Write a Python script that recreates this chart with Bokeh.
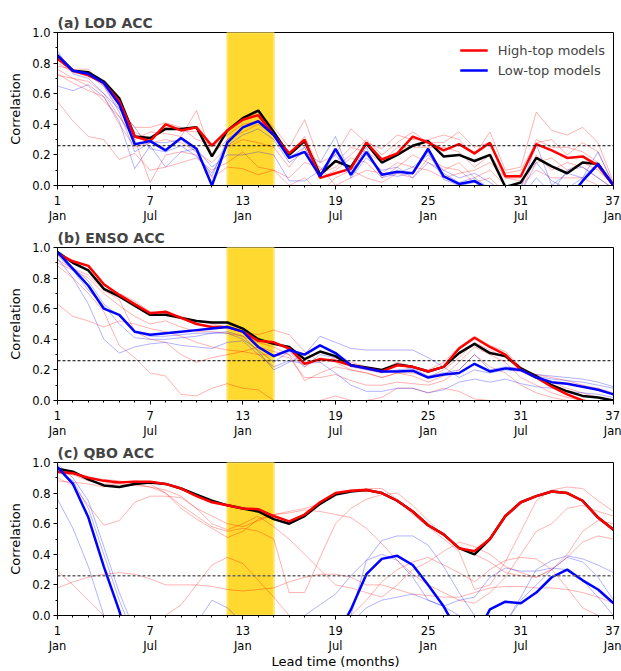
from bokeh.plotting import figure
from bokeh.layouts import column
from bokeh.models import (FixedTicker, BoxAnnotation, Span, Legend, LegendItem,
                          NumeralTickFormatter, Range1d)
from bokeh.embed import file_html
from bokeh.resources import INLINE

# ---------------- data ----------------
months = list(range(1, 38))
major_ticks = [1, 7, 13, 19, 25, 31, 37]
major_labels = ["1\nJan", "7\nJul", "13\nJan", "19\nJul", "25\nJan", "31\nJul", "37\nJan"]
panel_titles = ["(a) LOD ACC", "(b) ENSO ACC", "(c) QBO ACC"]
legend_labels = ["High-top models", "Low-top models"]
significance = 0.26
band_start, band_end = 12, 15

# (a) LOD
lod_all = [0.85, 0.75, 0.74, 0.68, 0.57, 0.32, 0.31, 0.37, 0.37, 0.38, 0.19, 0.36, 0.44, 0.49, 0.35, 0.20, 0.29,
           0.07, 0.16, 0.12, 0.275, 0.15, 0.20, 0.26, 0.29, 0.19, 0.20, 0.16, 0.20, -0.01, 0.02, 0.18, 0.125,
           0.08, 0.15, 0.14, 0.0]
lod_high = [0.83, 0.75, 0.72, 0.67, 0.55, 0.32, 0.29, 0.40, 0.36, 0.38, 0.26, 0.36, 0.43, 0.46, 0.33, 0.21, 0.30,
            0.05, 0.08, 0.11, 0.28, 0.17, 0.21, 0.32, 0.28, 0.23, 0.27, 0.21, 0.28, 0.06, 0.06, 0.27, 0.23,
            0.18, 0.19, 0.13, 0.0]
lod_low = [0.85, 0.75, 0.73, 0.67, 0.53, 0.27, 0.29, 0.23, 0.31, 0.24, 0.0, 0.28, 0.38, 0.42, 0.33, 0.18, 0.22,
           0.06, 0.24, 0.07, 0.22, 0.07, 0.09, 0.08, 0.24, 0.06, 0.01, 0.03, -0.03, -0.08, -0.10, -0.08, -0.10,
           -0.10, 0.03, 0.14, 0.0]
lod_high_members = [
    [0.78, 0.76, 0.76, 0.65, 0.50, 0.38, 0.38, 0.41, 0.38, 0.30, 0.27, 0.36, 0.43, 0.48, 0.38, 0.25, 0.43, 0.15, 0.20,
     0.37, 0.28, 0.24, 0.33, 0.30, 0.30, 0.33, 0.30, 0.20, 0.35, 0.10, 0.12, 0.48, 0.36, 0.33, 0.38, 0.28, 0.02],
    [0.76, 0.70, 0.68, 0.60, 0.45, 0.30, 0.35, 0.34, 0.32, 0.49, 0.20, 0.30, 0.35, 0.40, 0.33, 0.20, 0.32, 0.10, 0.15,
     0.25, 0.22, 0.15, 0.25, 0.25, 0.25, 0.25, 0.22, 0.12, 0.20, 0.05, 0.05, 0.30, 0.25, 0.25, 0.22, 0.15, 0.0],
    [0.73, 0.67, 0.62, 0.58, 0.40, 0.25, 0.28, 0.30, 0.28, 0.22, 0.15, 0.25, 0.30, 0.28, 0.25, 0.12, 0.25, 0.05, 0.10,
     0.18, 0.15, 0.05, 0.12, 0.20, 0.15, 0.10, 0.15, 0.05, 0.10, 0.0, -0.05, 0.20, 0.10, 0.15, 0.12, 0.05, -0.02],
    [0.55, 0.42, 0.32, 0.30, 0.17, 0.21, 0.10, 0.12, 0.15, 0.18, 0.10, 0.15, 0.22, 0.12, 0.10, 0.0, 0.05, -0.05, 0.05,
     0.10, 0.05, 0.02, 0.08, 0.05, 0.18, 0.12, 0.10, 0.02, 0.05, -0.05, 0.0, 0.10, 0.05, 0.05, 0.05, 0.0, -0.05],
    [0.72, 0.70, 0.65, 0.55, 0.45, 0.30, 0.02, 0.20, 0.22, 0.20, 0.05, 0.12, 0.11, 0.07, 0.10, 0.05, 0.15, 0.12, 0.0,
     0.05, 0.10, 0.08, 0.15, 0.12, 0.10, 0.05, 0.08, 0.10, 0.15, 0.05, 0.03, 0.15, 0.18, 0.10, 0.15, 0.10, 0.0],
    [0.80, 0.74, 0.72, 0.66, 0.52, 0.35, 0.30, 0.38, 0.36, 0.35, 0.25, 0.33, 0.40, 0.42, 0.35, 0.22, 0.30, 0.08, 0.12,
     0.20, 0.30, 0.20, 0.28, 0.35, 0.28, 0.28, 0.35, 0.25, 0.28, 0.08, 0.10, 0.28, 0.30, 0.20, 0.28, 0.22, 0.01],
]
lod_low_members = [
    [0.88, 0.73, 0.70, 0.60, 0.50, 0.38, 0.24, 0.22, 0.26, 0.19, 0.08, 0.26, 0.33, 0.37, 0.30, 0.15, 0.22, 0.15, 0.32,
     0.05, 0.18, 0.10, 0.12, 0.05, 0.15, 0.08, 0.02, 0.05, -0.02, -0.05, -0.02, 0.27, 0.0, 0.08, 0.05, 0.22, 0.0],
    [0.65, 0.62, 0.66, 0.58, 0.42, 0.11, 0.26, 0.12, 0.22, 0.24, 0.12, 0.20, 0.20, 0.22, 0.20, 0.03, 0.03, 0.10, 0.20,
     0.08, 0.25, 0.05, 0.08, 0.12, 0.20, 0.10, 0.05, 0.08, 0.02, -0.05, -0.08, 0.05, -0.05, 0.10, 0.12, 0.05, -0.02],
    [0.82, 0.75, 0.72, 0.65, 0.48, 0.22, 0.28, 0.28, 0.30, 0.22, 0.06, 0.30, 0.38, 0.42, 0.35, 0.18, 0.25, 0.05, 0.22,
     0.10, 0.20, 0.08, 0.06, 0.08, 0.22, 0.04, 0.0, 0.02, -0.05, -0.08, -0.05, 0.15, 0.03, -0.02, 0.05, 0.15, 0.0],
]

# (b) ENSO
enso_all = [0.97, 0.90, 0.85, 0.73, 0.68, 0.62, 0.56, 0.56, 0.54, 0.52, 0.51, 0.51, 0.47, 0.40, 0.37, 0.35, 0.27,
            0.32, 0.29, 0.23, 0.215, 0.20, 0.235, 0.22, 0.19, 0.22, 0.31, 0.37, 0.31, 0.29, 0.21, 0.16, 0.10,
            0.06, 0.03, 0.02, 0.0]
enso_high = [0.96, 0.91, 0.88, 0.76, 0.69, 0.63, 0.57, 0.58, 0.54, 0.50, 0.48, 0.48, 0.45, 0.39, 0.38, 0.34, 0.24,
             0.27, 0.26, 0.23, 0.21, 0.19, 0.23, 0.22, 0.19, 0.22, 0.34, 0.41, 0.35, 0.30, 0.20, 0.15, 0.09,
             0.04, 0.0, -0.02, -0.04]
enso_low = [0.97, 0.86, 0.75, 0.60, 0.56, 0.45, 0.43, 0.44, 0.45, 0.46, 0.47, 0.48, 0.45, 0.35, 0.29, 0.33, 0.30,
            0.36, 0.31, 0.23, 0.21, 0.19, 0.19, 0.195, 0.15, 0.17, 0.18, 0.24, 0.19, 0.21, 0.20, 0.15, 0.12,
            0.11, 0.09, 0.07, 0.04]
enso_high_members = [
    [0.63, 0.55, 0.52, 0.48, 0.52, 0.50, 0.47, 0.45, 0.42, 0.38, 0.35, 0.33, 0.32, 0.30, 0.30, 0.28, 0.15, 0.15, 0.17,
     0.13, 0.10, 0.10, 0.12, 0.11, 0.10, 0.13, 0.20, 0.30, 0.22, 0.18, 0.10, 0.05, 0.02, 0.0, -0.02, -0.03, -0.05],
    [0.88, 0.80, 0.70, 0.58, 0.36, 0.28, 0.18, 0.16, 0.04, 0.03, 0.08, 0.11, 0.08, 0.07, 0.0, -0.05, -0.05, 0.0, 0.03,
     0.0, 0.0, 0.02, 0.08, 0.08, 0.05, 0.08, 0.06, 0.01, 0.0, -0.02, -0.05, -0.08, -0.10, -0.10, -0.12, -0.12, -0.12],
    [0.95, 0.90, 0.85, 0.75, 0.70, 0.65, 0.58, 0.57, 0.55, 0.52, 0.50, 0.48, 0.45, 0.43, 0.46, 0.43, 0.32, 0.25, 0.28,
     0.25, 0.22, 0.20, 0.25, 0.22, 0.20, 0.25, 0.35, 0.42, 0.36, 0.32, 0.22, 0.16, 0.12, 0.08, 0.05, 0.02, 0.0],
    [0.90, 0.85, 0.80, 0.70, 0.62, 0.55, 0.50, 0.52, 0.48, 0.45, 0.45, 0.44, 0.42, 0.38, 0.35, 0.30, 0.13, 0.18, 0.22,
     0.20, 0.18, 0.15, 0.18, 0.18, 0.15, 0.20, 0.28, 0.38, 0.33, 0.28, 0.20, 0.17, 0.15, 0.13, 0.10, 0.08, 0.05],
    [0.92, 0.86, 0.82, 0.72, 0.66, 0.45, 0.40, 0.38, 0.30, 0.25, 0.28, 0.30, 0.32, 0.35, 0.32, 0.30, 0.22, 0.28, 0.25,
     0.20, 0.18, 0.15, 0.18, 0.16, 0.12, 0.16, 0.25, 0.35, 0.30, 0.25, 0.15, 0.10, 0.05, 0.02, 0.0, -0.02, -0.04],
]
enso_low_members = [
    [0.93, 0.80, 0.63, 0.40, 0.31, 0.35, 0.37, 0.38, 0.36, 0.35, 0.34, 0.38, 0.39, 0.30, 0.22, 0.26, 0.24, 0.25, 0.18,
     0.10, 0.06, 0.06, 0.08, 0.08, 0.05, 0.07, 0.12, 0.14, 0.12, 0.14, 0.11, 0.09, 0.08, 0.06, 0.05, 0.04, 0.02],
    [0.95, 0.85, 0.72, 0.62, 0.50, 0.41, 0.40, 0.40, 0.41, 0.42, 0.44, 0.45, 0.42, 0.32, 0.20, 0.25, 0.30, 0.42, 0.38,
     0.34, 0.33, 0.33, 0.33, 0.33, 0.28, 0.22, 0.15, 0.20, 0.18, 0.20, 0.19, 0.17, 0.16, 0.15, 0.14, 0.12, 0.09],
    [0.97, 0.87, 0.78, 0.63, 0.55, 0.45, 0.42, 0.42, 0.43, 0.44, 0.44, 0.44, 0.40, 0.33, 0.25, 0.32, 0.22, 0.30, 0.28,
     0.22, 0.20, 0.18, 0.20, 0.21, 0.16, 0.18, 0.20, 0.30, 0.20, 0.22, 0.21, 0.16, 0.14, 0.13, 0.12, 0.10, 0.08],
]

# (c) QBO
qbo_all = [0.96, 0.94, 0.89, 0.85, 0.84, 0.86, 0.87, 0.86, 0.83, 0.79, 0.75, 0.72, 0.70, 0.68, 0.63, 0.60, 0.65,
           0.73, 0.79, 0.81, 0.82, 0.80, 0.75, 0.68, 0.59, 0.53, 0.44, 0.40, 0.50, 0.65, 0.74, 0.78, 0.81, 0.80,
           0.75, 0.64, 0.56]
qbo_high = [0.94, 0.93, 0.90, 0.88, 0.87, 0.875, 0.875, 0.86, 0.83, 0.78, 0.74, 0.72, 0.70, 0.695, 0.65, 0.615,
            0.66, 0.74, 0.80, 0.815, 0.82, 0.80, 0.75, 0.68, 0.59, 0.53, 0.44, 0.42, 0.50, 0.65, 0.74, 0.78, 0.81,
            0.80, 0.75, 0.64, 0.56]
qbo_low = [0.97, 0.86, 0.64, 0.32, 0.03, -0.30, -0.40, -0.45, -0.45, -0.45, -0.45, -0.45, -0.45, -0.45, -0.45,
           -0.45, -0.40, -0.30, -0.15, 0.04, 0.27, 0.37, 0.39, 0.33, 0.20, 0.06, -0.12, -0.15, 0.04, 0.09, 0.08,
           0.15, 0.25, 0.30, 0.23, 0.17, 0.08]
qbo_high_members = [
    [0.90, 0.85, 0.72, 0.59, 0.62, 0.74, 0.78, 0.78, 0.77, 0.70, 0.65, 0.60, 0.58, 0.62, 0.66, 0.67, 0.69, 0.68, 0.66,
     0.64, 0.57, 0.47, 0.36, 0.27, 0.20, 0.15, 0.10, 0.08, 0.15, 0.25, 0.40, 0.55, 0.60, 0.70, 0.72, 0.68, 0.65],
    [0.95, 0.93, 0.90, 0.89, 0.88, 0.86, 0.84, 0.80, 0.70, 0.63, 0.57, 0.51, 0.55, 0.63, 0.66, 0.68, 0.70, 0.73, 0.79,
     0.82, 0.83, 0.83, 0.76, 0.66, 0.58, 0.50, 0.42, 0.17, 0.20, 0.35, 0.55, 0.75, 0.82, 0.84, 0.83, 0.75, 0.68],
    [0.93, 0.92, 0.88, 0.86, 0.86, 0.85, 0.84, 0.82, 0.78, 0.70, 0.60, 0.56, 0.60, 0.65, 0.58, 0.50, 0.40, 0.30, 0.20,
     0.18, 0.15, 0.12, 0.20, 0.30, 0.35, 0.42, 0.48, 0.45, 0.40, 0.32, 0.28, 0.25, 0.30, 0.40, 0.55, 0.62, 0.60],
    [0.18, 0.22, 0.25, 0.27, 0.28, 0.27, 0.24, 0.20, 0.20, 0.20, 0.19, 0.17, 0.16, 0.17, 0.18, 0.22, 0.25, 0.27, 0.27,
     0.25, 0.20, 0.20, 0.17, 0.14, 0.13, 0.12, 0.12, 0.15, 0.18, 0.19, 0.19, 0.18, 0.18, 0.17, 0.15, 0.12, 0.08],
    [0.29, 0.20, 0.10, 0.0, -0.10, -0.15, -0.12, 0.0, 0.07, 0.20, 0.33, 0.38, 0.34, 0.23, 0.12, 0.0, -0.10, -0.15,
     -0.10, 0.0, 0.10, 0.22, 0.30, 0.35, 0.38, 0.33, 0.28, 0.22, 0.30, 0.36, 0.38, 0.37, 0.30, 0.18, 0.05, 0.0, -0.05],
    [0.88, 0.87, 0.86, 0.84, 0.87, 0.88, 0.86, 0.80, 0.72, 0.65, 0.58, 0.55, 0.57, 0.55, 0.50, 0.15, 0.15, 0.38, 0.60,
     0.70, 0.76, 0.79, 0.80, 0.72, 0.62, 0.52, 0.45, 0.40, 0.35, 0.28, 0.26, 0.25, 0.30, 0.38, 0.48, 0.52, 0.50],
]
qbo_low_members = [
    [0.99, 0.90, 0.75, 0.45, 0.15, -0.10, -0.25, -0.30, -0.30, -0.30, -0.30, -0.30, -0.30, -0.30, -0.25, -0.15, 0.0,
     0.07, 0.14, 0.26, 0.36, 0.49, 0.52, 0.52, 0.46, 0.32, 0.15, 0.0, -0.10, -0.05, 0.12, 0.30, 0.36, 0.39, 0.37,
     0.33, 0.28],
    [0.76, 0.57, 0.32, 0.0, -0.20, -0.30, -0.30, -0.25, -0.15, -0.05, 0.10, 0.05, -0.05, -0.15, -0.25, -0.30, -0.25,
     -0.15, -0.05, 0.0, 0.36, 0.40, 0.36, 0.25, 0.10, 0.06, 0.0, -0.05, -0.10, -0.05, 0.10, 0.20, 0.30, 0.38, 0.35,
     0.25, 0.10],
    [0.95, 0.88, 0.70, 0.40, 0.10, -0.15, -0.30, -0.35, -0.35, -0.35, -0.35, -0.35, -0.35, -0.35, -0.35, -0.35,
     -0.30, -0.25, -0.15, -0.05, 0.05, 0.10, 0.12, 0.14, 0.10, 0.06, 0.10, 0.12, 0.25, 0.31, 0.29, 0.29, 0.31, 0.30,
     0.23, 0.12, 0.0],
]

panels = [
    (lod_all, lod_high, lod_low, lod_high_members, lod_low_members),
    (enso_all, enso_high, enso_low, enso_high_members, enso_low_members),
    (qbo_all, qbo_high, qbo_low, qbo_high_members, qbo_low_members),
]

FONT = "DejaVu Sans"
tops = [32, 10, 10]
bottoms = [10, 10, 10]
figs = []
for i, (all_m, high_m, low_m, high_mem, low_mem) in enumerate(panels):
    last = (i == 2)
    p = figure(frame_width=556, frame_height=153,
               min_border_left=57, min_border_right=8,
               min_border_top=tops[i], min_border_bottom=bottoms[i],
               x_range=Range1d(1, 37), y_range=Range1d(0, 1),
               output_backend="svg", toolbar_location=None,
               title=panel_titles[i])
    p.title.text_font = FONT
    p.title.text_font_style = "bold"
    p.title.text_font_size = "14px"
    p.title.align = "left"
    p.title.standoff = 4
    p.title.offset = 0
    p.xgrid.visible = False
    p.ygrid.visible = False
    p.outline_line_color = "black"
    p.outline_line_width = 1
    p.background_fill_color = "white"
    p.border_fill_color = "white"

    p.add_layout(BoxAnnotation(left=band_start, right=band_end, fill_color="#FFD92F",
                               fill_alpha=1.0, line_color="#FFE566", line_width=2, line_alpha=1.0,
                               level="underlay"))

    for m in high_mem:
        p.line(months, m, line_color="#FF0000", line_alpha=0.3, line_width=1)
    for m in low_mem:
        p.line(months, m, line_color="#0000FF", line_alpha=0.3, line_width=1)

    if last:
        p.add_layout(Span(location=significance, dimension="width", line_color="#666666",
                          line_width=1.6, line_dash="3 2"))
    else:
        p.add_layout(Span(location=significance, dimension="width", line_color="black",
                          line_width=1, line_dash="3 2"))

    p.line(months, all_m, line_color="black", line_width=2.5)
    r_high = p.line(months, high_m, line_color="#FF0000", line_width=2.5)
    r_low = p.line(months, low_m, line_color="#0000FF", line_width=2.5)

    if i == 0:
        legend = Legend(items=[LegendItem(label=legend_labels[0], renderers=[r_high]),
                               LegendItem(label=legend_labels[1], renderers=[r_low])],
                        location="top_right")
        legend.border_line_alpha = 0
        legend.background_fill_alpha = 0
        legend.label_text_font = FONT
        legend.label_text_font_size = "13px"
        legend.glyph_width = 28
        legend.label_standoff = 10
        legend.label_height = 20
        legend.glyph_height = 20
        legend.spacing = 0
        legend.padding = 2
        legend.margin = 6
        p.add_layout(legend)

    # axes
    p.xaxis.ticker = FixedTicker(ticks=major_ticks, minor_ticks=months)
    p.xaxis.major_label_overrides = {t: l for t, l in zip(major_ticks, major_labels)}
    p.yaxis.ticker = FixedTicker(ticks=[0, 0.2, 0.4, 0.6, 0.8, 1.0],
                                 minor_ticks=[0.1 * k for k in range(11)])
    p.yaxis.formatter = NumeralTickFormatter(format="0.0")
    for ax in (p.xaxis, p.yaxis):
        ax.major_tick_in = 0
        ax.major_tick_out = 4
        ax.minor_tick_in = 0
        ax.minor_tick_out = 2
        ax.major_tick_line_color = "black"
        ax.minor_tick_line_color = "black"
        ax.axis_line_color = "black"
        ax.major_label_text_font = FONT
        ax.major_label_text_font_size = "11.5px"
        ax.major_label_text_color = "black"
        ax.axis_label_text_font = FONT
        ax.axis_label_text_font_size = "13px"
        ax.axis_label_text_font_style = "normal"
        ax.axis_label_text_color = "black"
    p.xaxis.major_label_text_line_height = 1.1
    p.xaxis.major_label_standoff = 4
    p.yaxis.major_label_standoff = 3
    p.yaxis.axis_label = "Correlation"
    p.yaxis.axis_label_standoff = 6
    if last:
        p.xaxis.axis_label = "Lead time (months)"
        p.xaxis.axis_label_standoff = -2
    figs.append(p)

layout = column(*figs, spacing=0)
open("out.html", "w").write(file_html(layout, INLINE))
